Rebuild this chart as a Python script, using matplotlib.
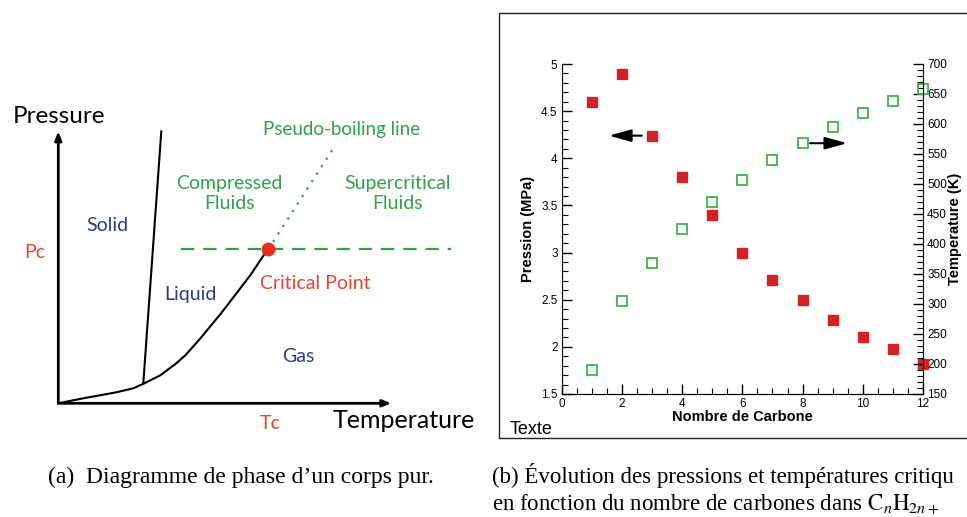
import matplotlib
matplotlib.use("Agg")
import matplotlib.pyplot as plt
from matplotlib.patches import Rectangle
from matplotlib.ticker import MultipleLocator, FuncFormatter

# (a) schematic phase diagram, arbitrary units (T right, P up)
vap_T = [0, 25, 58, 75, 86, 94, 102, 110, 118, 127, 135, 143, 152, 162, 172, 182, 192, 200, 208, 210]
vap_P = [0, 5, 11, 15, 20, 24, 28, 34, 40, 48, 57, 66, 77, 89, 102, 115, 128, 140, 152, 154]
melt_T = [85, 103]
melt_P = [20, 272]
Tc, Pc = 210, 154
pseudo_T = [210, 277]
pseudo_P = [154, 258]
iso_T = [123, 393]

# (b) critical properties of alkanes CnH2n+2
n_carb = [1, 2, 3, 4, 5, 6, 7, 8, 9, 10, 11, 12]
p_crit = [4.60, 4.89, 4.24, 3.80, 3.40, 3.00, 2.71, 2.50, 2.29, 2.10, 1.98, 1.82]
t_crit = [190, 305, 369, 425, 470, 507, 540, 569, 595, 618, 639, 658]

GREEN = "#30a04a"
RED = "#e8442c"
BLUE = "#2b3a8f"


def phase_diagram(fig):
    ax = fig.add_axes([0, 0, 490 / 967, 1])
    ax.set_xlim(-58.3, 431.7)
    ax.set_ylim(403.3 - 517, 403.3)
    ax.axis("off")
    f = "Lato"
    fs = 14

    ax.annotate("", xy=(0, 272), xytext=(0, 0),
                arrowprops=dict(arrowstyle="-|>,head_length=0.5,head_width=0.2",
                                color="black", lw=2, shrinkA=0, shrinkB=0))
    ax.annotate("", xy=(333, 0), xytext=(0, 0),
                arrowprops=dict(arrowstyle="-|>,head_length=0.5,head_width=0.2",
                                color="black", lw=2, shrinkA=0, shrinkB=0))
    ax.plot(vap_T, vap_P, color="black", lw=1.5)
    ax.plot(melt_T, melt_P, color="black", lw=1.5)
    ax.plot(iso_T, [Pc, Pc], color=GREEN, lw=1.6, dashes=(6, 4))
    ax.plot(pseudo_T, pseudo_P, color=GREEN, lw=1.6, ls=(0, (1, 3)))
    ax.plot([Tc], [Pc], "o", color="#e8301c", ms=9)

    ax.text(-46, 287, "Pressure", fontsize=17.5, family=f, va="center", ha="left")
    ax.text(346, -17, "Temperature", fontsize=18, family=f, va="center", ha="center")
    ax.text(212, -20, "Tc", fontsize=fs, family=f, color=RED, ha="center", va="center")
    ax.text(-23, 151, "Pc", fontsize=fs, family=f, color=RED, ha="center", va="center")
    ax.text(283, 274, "Pseudo-boiling line", fontsize=13.5, family=f, color=GREEN,
            ha="center", va="center")
    ax.text(171, 210, "Compressed\nFluids", fontsize=fs, family=f, color=GREEN,
            ha="center", va="center", linespacing=1.2)
    ax.text(339, 210, "Supercritical\nFluids", fontsize=fs, family=f, color=GREEN,
            ha="center", va="center", linespacing=1.2)
    ax.text(49, 178, "Solid", fontsize=fs, family=f, color=BLUE, ha="center", va="center")
    ax.text(132, 109, "Liquid", fontsize=fs, family=f, color=BLUE, ha="center", va="center")
    ax.text(257, 120, "Critical Point", fontsize=fs, family=f, color=RED,
            ha="center", va="center")
    ax.text(240, 47, "Gas", fontsize=fs, family=f, color=BLUE, ha="center", va="center")


def critical_plot(fig):
    fig.patches.append(Rectangle((499 / 967, 1 - 438 / 517), 0.6, 425 / 517,
                                 transform=fig.transFigure, fill=False,
                                 edgecolor="#222222", lw=1))
    ax = fig.add_axes([561.7 / 967, 1 - 394 / 517, (923 - 561.7) / 967, 330 / 517])
    ax2 = ax.twinx()

    ax.plot(n_carb, p_crit, "s", color="#d42027", ms=6.5, clip_on=False, zorder=5)
    ax2.plot(n_carb, t_crit, "s", mfc="none", mec="#3db54a", mew=1.3, ms=7.5,
             clip_on=False)

    ax.set_xlim(0, 12)
    ax.set_ylim(1.5, 5)
    ax2.set_ylim(150, 700)
    for a in (ax, ax2):
        a.spines["top"].set_visible(False)
    ax2.spines["left"].set_visible(False)
    ax.spines["right"].set_visible(False)

    fmt = FuncFormatter(lambda v, p: "%g" % v)
    ax.xaxis.set_major_locator(MultipleLocator(2))
    ax.xaxis.set_minor_locator(MultipleLocator(0.5))
    ax.yaxis.set_major_locator(MultipleLocator(0.5))
    ax.yaxis.set_minor_locator(MultipleLocator(0.1))
    ax.yaxis.set_major_formatter(fmt)
    ax2.yaxis.set_major_locator(MultipleLocator(50))
    ax2.yaxis.set_minor_locator(MultipleLocator(10))

    ax.tick_params(which="both", direction="in", top=False, right=False,
                   labelsize=8.5, pad=3)
    ax.tick_params(which="major", length=7, width=1)
    ax.tick_params(which="minor", length=4, width=0.8)
    ax2.tick_params(which="both", direction="in", left=False, right=True,
                    labelsize=8.5, pad=3)
    ax2.tick_params(which="major", length=7, width=1)
    ax2.tick_params(which="minor", length=4, width=0.8)

    ax.set_xlabel("Nombre de Carbone", fontsize=10.5, fontweight="bold", labelpad=0)
    ax.set_ylabel("Pression (MPa)", fontsize=10.5, fontweight="bold", labelpad=4)
    ax2.set_ylabel("Temperature (K)", fontsize=10.5, fontweight="bold", labelpad=1)

    ax.annotate("", xy=(1.57, 4.24), xytext=(2.66, 4.24),
                arrowprops=dict(arrowstyle="-|>,head_length=0.9,head_width=0.25",
                                color="black", lw=1.5, mutation_scale=15,
                                shrinkA=0, shrinkB=0))
    ax.annotate("", xy=(9.48, 4.16), xytext=(8.25, 4.16),
                arrowprops=dict(arrowstyle="-|>,head_length=0.9,head_width=0.25",
                                color="black", lw=1.5, mutation_scale=15,
                                shrinkA=0, shrinkB=0))
    fig.text(510 / 967, 1 - 430 / 517, "Texte", fontsize=13, va="center", ha="left")


def main():
    plt.rcParams["font.family"] = ["Liberation Sans", "DejaVu Sans"]
    plt.rcParams["mathtext.fontset"] = "stix"
    fig = plt.figure(figsize=(9.67, 5.17), dpi=100)

    phase_diagram(fig)
    critical_plot(fig)

    serif = ["Liberation Serif", "DejaVu Serif"]
    fig.text(48 / 967, 1 - 483 / 517, "(a)  Diagramme de phase d\u2019un corps pur.",
             fontsize=17, family=serif, va="baseline", ha="left")
    # caption (b) is cut by the right edge in the source figure
    fig.text(492 / 967, 1 - 483 / 517,
             "(b) \u00c9volution des pressions et temp\u00e9ratures critiqu",
             fontsize=16.5, family=serif, va="baseline", ha="left")
    fig.text(492 / 967, 1 - 511 / 517,
             "en fonction du nombre de carbones dans $\\mathrm{C}_n\\mathrm{H}_{2n+}$",
             fontsize=16.5, family=serif, va="baseline", ha="left")

    fig.savefig("out.png", dpi=100)


if __name__ == '__main__': main()
